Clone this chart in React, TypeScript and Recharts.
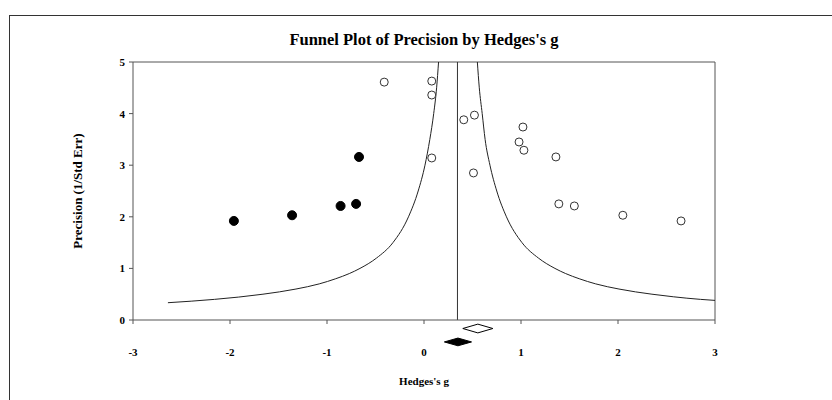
import { ComposedChart, XAxis, YAxis, Scatter, Line, ReferenceLine, ReferenceArea } from 'recharts'

const X_TICKS = [-3, -2, -1, 0, 1, 2, 3]
const Y_TICKS = [0, 1, 2, 3, 4, 5]

// observed studies (open circles)
const observed = [
  { g: -0.41, p: 4.61 },
  { g: 0.08, p: 4.63 },
  { g: 0.08, p: 4.36 },
  { g: 0.08, p: 3.14 },
  { g: 0.41, p: 3.88 },
  { g: 0.52, p: 3.97 },
  { g: 0.51, p: 2.85 },
  { g: 1.02, p: 3.74 },
  { g: 0.98, p: 3.45 },
  { g: 1.03, p: 3.29 },
  { g: 1.36, p: 3.16 },
  { g: 1.39, p: 2.25 },
  { g: 1.55, p: 2.21 },
  { g: 2.05, p: 2.03 },
  { g: 2.65, p: 1.92 },
]

// imputed studies (filled circles)
const imputed = [
  { g: -1.96, p: 1.92 },
  { g: -1.36, p: 2.03 },
  { g: -0.86, p: 2.21 },
  { g: -0.7, p: 2.25 },
  { g: -0.67, p: 3.16 },
]

const funnelLeft = [
  { g: -2.64, p: 0.335 },
  { g: -2.16, p: 0.4 },
  { g: -1.66, p: 0.5 },
  { g: -1.32, p: 0.6 },
  { g: -1.08, p: 0.7 },
  { g: -0.91, p: 0.8 },
  { g: -0.77, p: 0.9 },
  { g: -0.66, p: 1.0 },
  { g: -0.49, p: 1.2 },
  { g: -0.32, p: 1.5 },
  { g: -0.16, p: 2.0 },
  { g: -0.06, p: 2.5 },
  { g: 0.01, p: 3.0 },
  { g: 0.06, p: 3.5 },
  { g: 0.1, p: 4.0 },
  { g: 0.13, p: 4.5 },
  { g: 0.15, p: 5.0 },
]

const funnelRight = [
  { g: 0.55, p: 5.0 },
  { g: 0.57, p: 4.5 },
  { g: 0.6, p: 4.0 },
  { g: 0.63, p: 3.5 },
  { g: 0.68, p: 3.0 },
  { g: 0.75, p: 2.5 },
  { g: 0.85, p: 2.0 },
  { g: 1.01, p: 1.5 },
  { g: 1.18, p: 1.2 },
  { g: 1.35, p: 1.0 },
  { g: 1.46, p: 0.9 },
  { g: 1.6, p: 0.8 },
  { g: 1.77, p: 0.7 },
  { g: 2.01, p: 0.6 },
  { g: 2.35, p: 0.5 },
  { g: 2.57, p: 0.45 },
  { g: 2.85, p: 0.4 },
  { g: 3.0, p: 0.38 },
]

const adjustedMean = 0.345
const observedCI = [0.4, 0.71]
const adjustedCI = [0.21, 0.49]

const FONT = '"Liberation Serif", "Times New Roman", serif'
const AXIS = '#555'

const openDot = (props: any) => (
  <circle cx={props.cx} cy={props.cy} r={4} fill="#fff" stroke="#333" strokeWidth={1} />
)
const filledDot = (props: any) => (
  <circle cx={props.cx} cy={props.cy} r={4.5} fill="#000" stroke="#000" />
)

const diamond = (fill: string) => (props: any) => {
  const { x, y, width, height } = props
  const pts = `${x},${y + height / 2} ${x + width / 2},${y} ${x + width},${y + height / 2} ${x + width / 2},${y + height}`
  return <polygon points={pts} fill={fill} stroke="#000" strokeWidth={1} />
}

const tickStyle = { fontFamily: FONT, fontSize: 11, fontWeight: 'bold', fill: '#000' }

export default function App() {
  return (
    <div style={{ position: 'absolute', left: 0, top: 0, width: 832, height: 400, background: '#fff', overflow: 'hidden' }}>
      <div
        style={{
          position: 'absolute',
          left: 9,
          top: 15,
          width: 830,
          height: 400,
          borderTop: '1.5px solid #333',
          borderLeft: '1.5px solid #333',
        }}
      />
      <div
        style={{
          position: 'absolute',
          left: 0,
          top: 30,
          width: 848,
          textAlign: 'center',
          fontFamily: FONT,
          fontWeight: 'bold',
          fontSize: 16.5,
          color: '#000',
        }}
      >
        Funnel Plot of Precision by Hedges's g
      </div>
      <div style={{ position: 'absolute', left: 0, top: 0 }}>
        <ComposedChart width={832} height={400} margin={{ top: 62, right: 117, bottom: 10, left: 21 }}>
          <XAxis
            type="number"
            dataKey="g"
            domain={[-3, 3]}
            ticks={X_TICKS}
            height={70}
            tickSize={4}
            tickMargin={24}
            tick={tickStyle}
            stroke={AXIS}
            label={{ value: "Hedges's g", position: 'insideBottom', offset: 5, style: tickStyle }}
          />
          <YAxis
            type="number"
            dataKey="p"
            domain={[0, 5]}
            ticks={Y_TICKS}
            width={112}
            tickSize={4}
            tickMargin={4}
            tick={tickStyle}
            stroke={AXIS}
            label={{ value: 'Precision (1/Std Err)', angle: -90, position: 'center', style: { ...tickStyle, fontSize: 13 } }}
          />
          <ReferenceLine x={3} stroke={AXIS} />
          <ReferenceLine y={5} stroke={AXIS} />
          <ReferenceLine x={adjustedMean} stroke="#333" />
          <Line
            data={funnelLeft}
            dataKey="p"
            type="monotone"
            dot={false}
            stroke="#222"
            strokeWidth={1}
            isAnimationActive={false}
          />
          <Line
            data={funnelRight}
            dataKey="p"
            type="monotone"
            dot={false}
            stroke="#222"
            strokeWidth={1}
            isAnimationActive={false}
          />
          <Scatter data={imputed} dataKey="p" shape={filledDot} isAnimationActive={false} />
          <Scatter data={observed} dataKey="p" shape={openDot} isAnimationActive={false} />
          <ReferenceArea
            x1={observedCI[0]}
            x2={observedCI[1]}
            y1={-0.08}
            y2={-0.25}
            ifOverflow="visible"
            shape={diamond('#fff')}
          />
          <ReferenceArea
            x1={adjustedCI[0]}
            x2={adjustedCI[1]}
            y1={-0.35}
            y2={-0.5}
            ifOverflow="visible"
            shape={diamond('#000')}
          />
        </ComposedChart>
      </div>
    </div>
  )
}
